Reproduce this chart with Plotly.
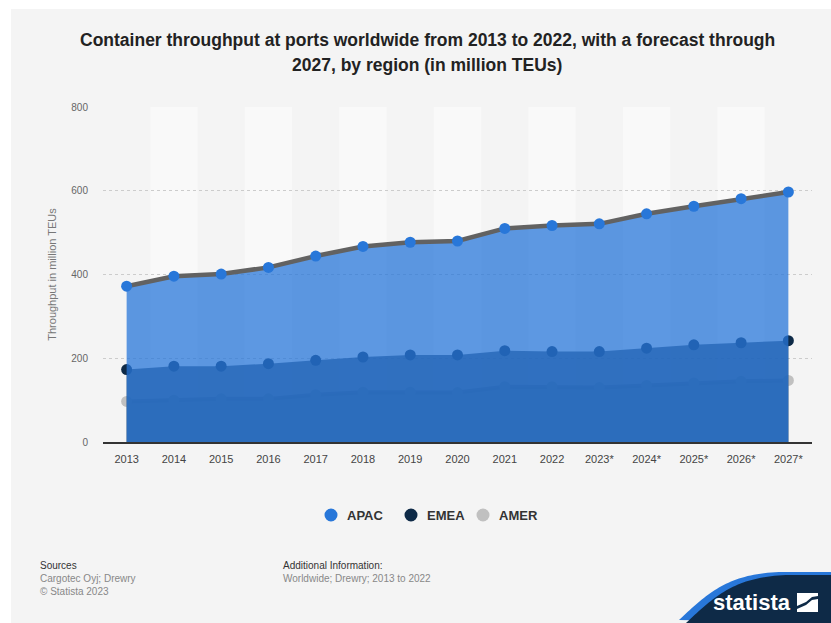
import plotly.graph_objects as go

# ---- data ----
years = ["2013", "2014", "2015", "2016", "2017", "2018", "2019", "2020", "2021",
         "2022", "2023*", "2024*", "2025*", "2026*", "2027*"]
apac = [372, 396, 401, 417, 444, 467, 477, 480, 510, 517, 521, 545, 563, 581, 597]
emea = [173, 181, 181, 187, 195, 203, 208, 208, 218, 216, 216, 224, 232, 237, 242]
amer = [97, 100, 103, 103, 113, 119, 119, 118, 132, 132, 130, 135, 141, 145, 147]
y_ticks = [0, 200, 400, 600, 800]

W, H = 831, 623
L, R, T, B = 103, 19, 107, 181
PW, PH = W - L - R, H - T - B


def px(x):
    return (x - L) / PW


def py(y):
    return (H - B - y) / PH


C_APAC = "#2877d9"
C_EMEA = "#0e2a47"
C_AMER = "#c0c0c0"

fig = go.Figure()

fig.add_trace(go.Scatter(
    x=years, y=amer, mode="lines+markers", fill="tozeroy",
    fillcolor="rgba(175,175,175,0.75)",
    line=dict(color="rgba(150,150,150,0.8)", width=4),
    marker=dict(color=C_AMER, size=11),
    showlegend=False, hoverinfo="skip"))
fig.add_trace(go.Scatter(
    x=years, y=emea, mode="lines+markers", fill="tozeroy",
    fillcolor="rgba(14,42,71,0.75)",
    line=dict(color="rgba(14,42,71,0)", width=0),
    marker=dict(color=C_EMEA, size=11),
    showlegend=False, hoverinfo="skip"))
fig.add_trace(go.Scatter(
    x=years, y=apac, mode="lines+markers", fill="tozeroy",
    fillcolor="rgba(40,119,217,0.75)",
    line=dict(color="#626262", width=4.5),
    marker=dict(color=C_APAC, size=11),
    showlegend=False, hoverinfo="skip"))

shapes = []
# white page margins / gray panel
shapes.append(dict(type="rect", xref="paper", yref="paper", layer="below",
                   x0=px(11), x1=px(W + 5), y0=py(9), y1=py(H + 5),
                   fillcolor="#f4f4f4", line=dict(width=0)))
# alternating column bands
for i in range(1, len(years), 2):
    shapes.append(dict(type="rect", xref="x", yref="paper", layer="below",
                       x0=i - 0.5, x1=i + 0.5, y0=0, y1=1,
                       fillcolor="#f9f9f9", line=dict(width=0)))

# legend (manual)
legend_items = [("APAC", C_APAC, 331), ("EMEA", C_EMEA, 411), ("AMER", C_AMER, 483)]
annotations = []
for name, col, cx in legend_items:
    r = 6.5
    shapes.append(dict(type="circle", xref="paper", yref="paper",
                       x0=px(cx - r), x1=px(cx + r), y0=py(515 + r), y1=py(515 - r),
                       fillcolor=col, line=dict(width=0)))
    annotations.append(dict(text=name, xref="paper", yref="paper",
                            x=px(cx + 14), y=py(515), xanchor="left", yanchor="middle",
                            showarrow=False,
                            font=dict(family="Liberation Sans, Arial", size=13, color="#333333", weight="bold")))


# logo
def path_from(pts):
    return "M " + " L ".join(f"{px(x):.5f},{py(y):.5f}" for x, y in pts) + " Z"


curve = []
for k in range(0, 41):
    t = k / 40
    p0, p1, p2, p3 = (686, 623), (715, 596), (735, 576), (790, 575)
    x = (1-t)**3*p0[0] + 3*(1-t)**2*t*p1[0] + 3*(1-t)*t**2*p2[0] + t**3*p3[0]
    y = (1-t)**3*p0[1] + 3*(1-t)**2*t*p1[1] + 3*(1-t)*t**2*p2[1] + t**3*p3[1]
    curve.append((x, y))
blue_pts = [(x - 7, y - 3) for x, y in curve] + [(W + 2, 572), (W + 2, 623)]
navy_pts = curve + [(W + 2, 575), (W + 2, 623)]
shapes.append(dict(type="path", xref="paper", yref="paper", path=path_from(blue_pts),
                   fillcolor=C_APAC, line=dict(width=0)))
shapes.append(dict(type="path", xref="paper", yref="paper", path=path_from(navy_pts),
                   fillcolor=C_EMEA, line=dict(width=0)))
# logo icon
shapes.append(dict(type="rect", xref="paper", yref="paper",
                   x0=px(797), x1=px(818), y0=py(612), y1=py(593),
                   fillcolor="white", line=dict(width=0)))
shapes.append(dict(type="path", xref="paper", yref="paper",
                   path=path_from([(797, 606), (806, 602), (812, 597), (818, 596),
                                   (818, 599), (812, 600), (806, 605), (797, 609)]),
                   fillcolor=C_EMEA, line=dict(width=0)))

annotations.append(dict(text="statista", xref="paper", yref="paper",
                        x=px(752), y=py(602), xanchor="center", yanchor="middle",
                        showarrow=False,
                        font=dict(family="Liberation Sans, Arial", size=22, color="white", weight="bold")))

# title
title_font = dict(family="Liberation Sans, Arial", size=17.5, color="#222222", weight="bold")
annotations.append(dict(text="Container throughput at ports worldwide from 2013 to 2022, with a forecast through",
                        xref="paper", yref="paper", x=px(427), y=py(40), xanchor="center",
                        yanchor="middle", showarrow=False, font=title_font))
annotations.append(dict(text="2027, by region (in million TEUs)",
                        xref="paper", yref="paper", x=px(427), y=py(65), xanchor="center",
                        yanchor="middle", showarrow=False, font=title_font))

# footer
small = dict(family="Liberation Sans, Arial", size=10)
for txt, x, y, col in [("Sources", 38, 565, "#333333"),
                       ("Cargotec Oyj; Drewry", 38, 578, "#888888"),
                       ("© Statista 2023", 38, 591, "#888888"),
                       ("Additional Information:", 281, 565, "#333333"),
                       ("Worldwide; Drewry; 2013 to 2022", 281, 578, "#888888")]:
    annotations.append(dict(text=txt, xref="paper", yref="paper", x=px(x), y=py(y),
                            xanchor="left", yanchor="middle", showarrow=False,
                            font=dict(**small, color=col)))

fig.update_layout(
    width=W, height=H,
    margin=dict(l=L, r=R, t=T, b=B, pad=0),
    paper_bgcolor="white", plot_bgcolor="rgba(0,0,0,0)",
    shapes=shapes, annotations=annotations,
    showlegend=False,
    font=dict(family="Liberation Sans, Arial"),
    xaxis=dict(type="category", showgrid=False, showline=True, linecolor="#333333",
               linewidth=1.5, ticks="", tickfont=dict(size=11, color="#444444"),
               ticklabelstandoff=6, fixedrange=True, range=[-0.5, len(years) - 0.5]),
    yaxis=dict(range=[0, 800], tickvals=y_ticks, showgrid=True, gridcolor="#cccccc",
               griddash="dot", gridwidth=1, zeroline=False, showline=False,
               tickfont=dict(size=10, color="#666666"), ticklabelstandoff=14,
               title=dict(text="Throughput in million TEUs", font=dict(size=11, color="#777777"),
                          standoff=12)),
)

fig.write_html("out.html", config={"displayModeBar": False},
               post_script="document.body.style.margin='0';document.body.style.overflow='hidden';")
